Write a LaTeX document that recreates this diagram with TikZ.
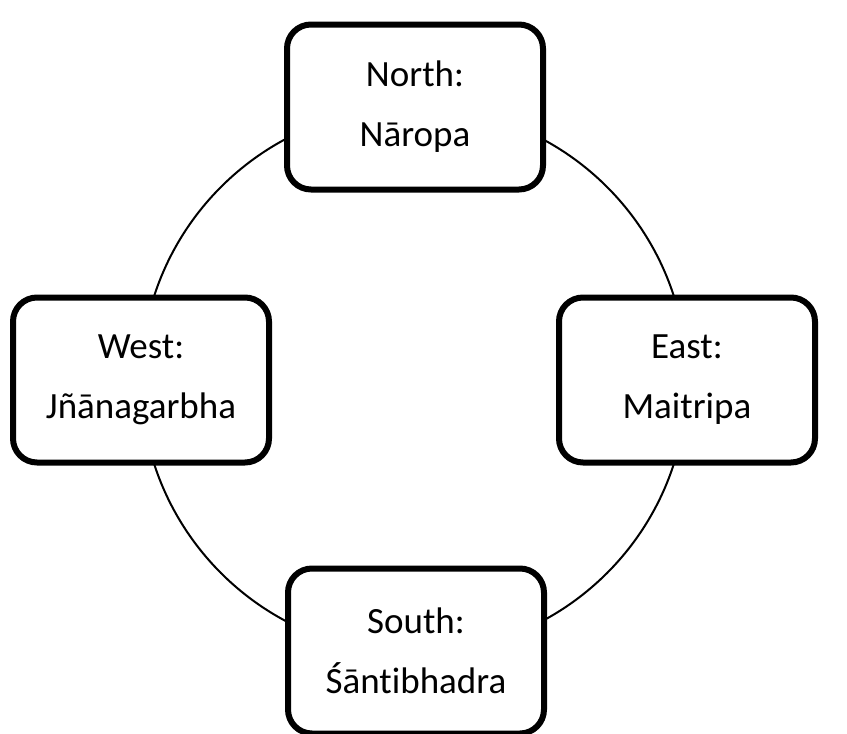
\documentclass[tikz,border=0pt]{standalone}
\usepackage{fontspec}
\setmainfont{Carlito}[Ligatures=NoCommon]
\begin{document}
\begin{tikzpicture}[x=1pt,y=-1pt,
  box/.style={draw,line width=6pt,rounded corners=24pt,fill=white,minimum width=256pt,minimum height=165pt,align=center,font=\fontsize{37}{60}\selectfont}]
\useasboundingbox (0,0) rectangle (847,734);
\coordinate (c) at (414,380);
\draw[line width=2pt] (c) circle[radius=273];
\node[box] (n) at (415,107) {North:\\Nāropa};
\node[box] (w) at (141,380) {West:\\Jñānagarbha};
\node[box] (e) at (687,380) {East:\\Maitripa};
\node[box] (s) at (416,651) {South:\\Śāntibhadra};
\end{tikzpicture}
\end{document}
